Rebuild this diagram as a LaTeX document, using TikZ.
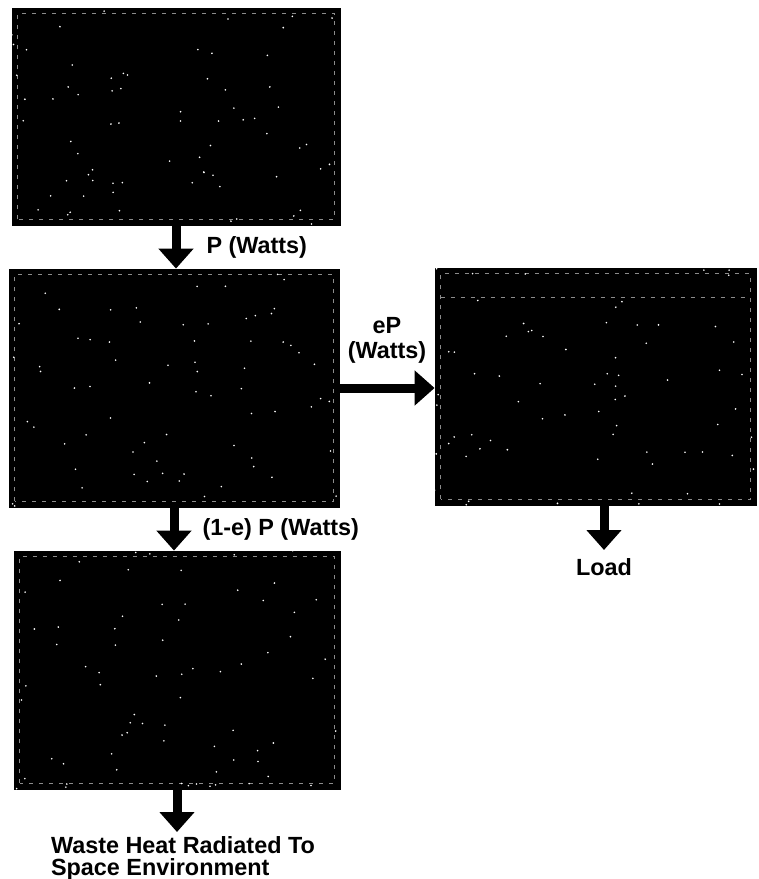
\documentclass[tikz,border=0pt]{standalone}
\usepackage{fontspec}
\setmainfont{Liberation Sans}
\usetikzlibrary{positioning,arrows.meta,calc}

\begin{document}
\begin{tikzpicture}[x=0.5pt,y=-0.5pt,
    blk/.style={draw=black, fill=black, inner sep=0pt},
    flow/.style={line width=4.5pt, -{Triangle[width=17pt,length=10pt]}},
    lbl/.style={font=\fontsize{11.7}{12.5}\selectfont\bfseries, inner sep=0pt},
    speck/.style={fill=white},
    rim/.style={draw=white!55!black, line width=0.4pt, dash pattern=on 2pt off 3pt}]
  \useasboundingbox (0,0) rectangle (759,879);

  % Blocks
  \node[blk, minimum width=164pt, minimum height=108.5pt] (src)  at (176,116.5) {};
  \node[blk, minimum width=165pt, minimum height=119pt]   (conv) at (174,388) {};
  \node[blk, minimum width=160.5pt, minimum height=118.5pt] (pcu) at (595.5,386.5) {};
  \node[blk, minimum width=163pt, minimum height=119pt]   (rad)  at (177,670) {};

  % Scan texture inside the blocks
  \pgfmathsetseed{11}
  \foreach \b in {src,conv,pcu,rad}{
    \draw[rim] ([shift={(3pt,3pt)}]\b.south west) rectangle ([shift={(-3pt,-3pt)}]\b.north east);
    \foreach \i in {1,...,70}{
      \path ($(\b.south west)!{rnd}!(\b.south east)$) coordinate (sx)
            ($(\b.south west)!{rnd}!(\b.north west)$) coordinate (sy);
      \fill[speck] (sx |- sy) circle (0.45pt);
    }
  }
  \draw[rim] ([shift={(3pt,-15pt)}]pcu.north west) -- ([shift={(-3pt,-15pt)}]pcu.north east);

  % Power flows
  \draw[flow] (src.south) -- (src.south |- conv.north)
    node[lbl, midway, right=13pt] {P (Watts)};
  \draw[flow] (conv.east) -- (conv.east -| pcu.west)
    node[lbl, midway, above=10pt, align=center] {eP\\(Watts)};
  \draw[flow] (conv.south) -- (conv.south |- rad.north)
    node[lbl, midway, right=12pt] {(1-e) P (Watts)};

  % Outputs
  \coordinate (loadtip) at (604,550);
  \draw[flow] (loadtip |- pcu.south) -- (loadtip);
  \node[lbl, below=4pt of loadtip] (load) {Load};

  \coordinate (wastetip) at (177,832);
  \draw[flow] (rad.south) -- (wastetip);
  \node[lbl, below=2pt of wastetip, anchor=north, xshift=3pt, align=left,
        font=\fontsize{11.7}{11}\selectfont\bfseries] (waste)
    {Waste Heat Radiated To\\Space Environment};
\end{tikzpicture}
\end{document}
